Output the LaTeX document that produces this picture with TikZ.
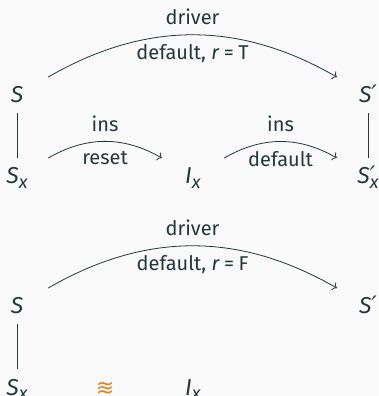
\documentclass[tikz,border=0pt]{standalone}
\usepackage{fontspec}
\setmainfont{Fira Sans}
\newfontfamily\symfont{DejaVu Sans}
\usetikzlibrary{arrows.meta}
\definecolor{ink}{HTML}{23373B}
\definecolor{bg}{HTML}{FAFAFA}
\definecolor{accent}{HTML}{EB811B}
\newcommand{\subx}{\raisebox{-5pt}{\fontsize{18}{18}\selectfont\textit{x}}}
\newcommand{\prm}{{\symfont\itshape\fontsize{24}{24}\selectfont ′}}
\newcommand{\eqsign}{\hspace{0.22em}=\hspace{0.22em}}
\begin{document}
\begin{tikzpicture}[x=1pt,y=1pt,
  obj/.style={inner sep=0pt, minimum width=62pt, minimum height=36pt,
    text height=16pt, text depth=0pt, font=\fontsize{23}{26}\selectfont, text=ink},
  lab/.style={font=\fontsize{20}{23}\selectfont, text=ink, inner sep=9.5pt},
  arr/.style={draw=ink, line width=0.8pt, -{To[length=4pt,width=9pt]}},
  edgeline/.style={draw=ink, line width=0.8pt}]
\fill[bg] (0,0) rectangle (378,396);
\useasboundingbox (0,0) rectangle (378,396);
% top diagram
\node[obj] (S1) at (17,301) {\textit{S}};
\node[obj] (P1) at (368,301) {\textit{S}\prm};
\node[obj] (X1) at (17,220) {\textit{S}\subx};
\node[obj] (I1) at (193,220) {\textit{I}\subx};
\node[obj] (Q1) at (368,220) {\textit{S}\rlap{\prm}\subx};
\draw[arr] (S1) to[bend left=30]
  node[lab, above] {driver}
  node[lab, below] {default, \textit{r}\eqsign T} (P1);
\draw[edgeline] (S1) -- (X1);
\draw[edgeline] (P1) -- (Q1);
\draw[arr] (X1) to[bend left=30]
  node[lab, above] {ins}
  node[lab, below] {reset} (I1);
\draw[arr] (I1) to[bend left=30]
  node[lab, above] {ins}
  node[lab, below] {default} (Q1);
% bottom diagram
\node[obj] (S2) at (17,90) {\textit{S}};
\node[obj] (P2) at (368,90) {\textit{S}\prm};
\node[obj] (X2) at (17,9) {\textit{S}\subx};
\node[obj, font=\symfont\fontsize{22}{24}\selectfont, text=accent] (A2) at (105,9) {≋};
\node[obj] (I2) at (193,9) {\textit{I}\subx};
\draw[arr] (S2) to[bend left=30]
  node[lab, above] {driver}
  node[lab, below] {default, \textit{r}\eqsign F} (P2);
\draw[edgeline] (S2) -- (X2);
\end{tikzpicture}
\end{document}
